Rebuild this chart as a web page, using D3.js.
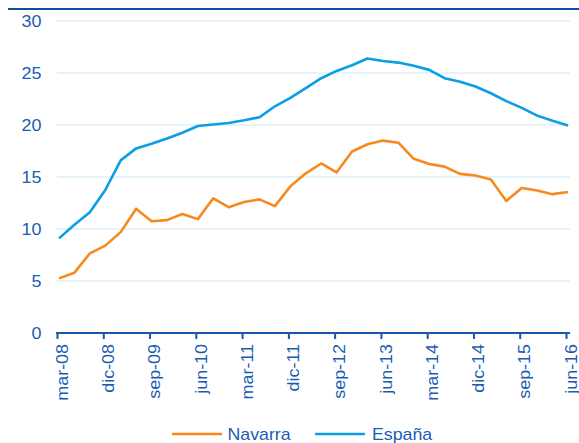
<!DOCTYPE html>
<html>
<head>
<meta charset="utf-8">
<script src="https://cdn.jsdelivr.net/npm/d3@7"></script>
<style>
  html, body { margin: 0; padding: 0; background: #fff; }
  svg text { font-family: "Liberation Sans", Arial, sans-serif; }
</style>
</head>
<body>
<svg id="chart" width="579" height="443"></svg>
<script>
const quarters = [
  "mar-08","jun-08","sep-08","dic-08","mar-09","jun-09","sep-09","dic-09",
  "mar-10","jun-10","sep-10","dic-10","mar-11","jun-11","sep-11","dic-11",
  "mar-12","jun-12","sep-12","dic-12","mar-13","jun-13","sep-13","dic-13",
  "mar-14","jun-14","sep-14","dic-14","mar-15","jun-15","sep-15","dic-15",
  "mar-16","jun-16"
];
const tickLabels = ["mar-08","dic-08","sep-09","jun-10","mar-11","dic-11","sep-12","jun-13","mar-14","dic-14","sep-15","jun-16"];
const navarra = [
  5.25, 5.8, 7.65, 8.4, 9.7, 11.95, 10.75, 10.85, 11.45, 10.95, 12.95, 12.1,
  12.6, 12.85, 12.2, 14.1, 15.35, 16.3, 15.45, 17.45, 18.15, 18.5, 18.3, 16.75,
  16.25, 16.0, 15.3, 15.15, 14.75, 12.7, 13.95, 13.7, 13.35, 13.55
];
const espana = [
  9.1, 10.4, 11.6, 13.75, 16.6, 17.75, 18.2, 18.7, 19.25, 19.9, 20.05, 20.2,
  20.45, 20.75, 21.8, 22.6, 23.55, 24.5, 25.2, 25.75, 26.4, 26.15, 26.0, 25.7,
  25.3, 24.5, 24.15, 23.7, 23.05, 22.3, 21.65, 20.9, 20.4, 19.95
];
const yTicks = [0, 5, 10, 15, 20, 25, 30];
const seriesNames = ["Navarra", "España"];

const textColor = "#1b5cb3";
const axisColor = "#1656ad";
const colors = { "Navarra": "#f7891f", "España": "#0a9fe2" };

const svg = d3.select("#chart");

const x = d3.scalePoint().domain(quarters).range([59, 568]);
const y = d3.scaleLinear().domain([0, 30]).range([333, 21]);

// top rule
svg.append("line")
  .attr("x1", 8).attr("x2", 579).attr("y1", 9).attr("y2", 9)
  .attr("stroke", "#0b4ea3").attr("stroke-width", 2.2);

// gridlines
svg.append("g").selectAll("line")
  .data(yTicks.filter(d => d > 0))
  .join("line")
  .attr("x1", 57).attr("x2", 570)
  .attr("y1", d => y(d)).attr("y2", d => y(d))
  .attr("stroke", "#cbe7f6").attr("stroke-width", 1.2);

// y labels
svg.append("g").selectAll("text")
  .data(yTicks)
  .join("text")
  .attr("transform", d => `translate(41.5,${y(d)}) scale(1.12,1)`)
  .attr("dy", "0.36em")
  .attr("text-anchor", "end")
  .attr("font-size", 16)
  .attr("fill", textColor)
  .text(d => d);

// x axis
const xAxis = d3.axisBottom(x)
  .tickValues(tickLabels)
  .tickSize(6)
  .tickSizeOuter(0);

const gx = svg.append("g")
  .attr("transform", "translate(-2,333)")
  .call(xAxis);
gx.select(".domain").remove();
gx.selectAll(".tick line").attr("stroke", axisColor).attr("stroke-width", 2);
gx.selectAll(".tick text")
  .attr("fill", textColor)
  .attr("font-size", 16)
  .attr("text-anchor", "end")
  .attr("x", 0).attr("y", 0)
  .attr("dy", "0.36em")
  .attr("transform", "translate(4.5,11) rotate(-90) scale(1.12,1)");

svg.append("line")
  .attr("x1", 56).attr("x2", 570).attr("y1", 333).attr("y2", 333)
  .attr("stroke", axisColor).attr("stroke-width", 2.2);

// lines
const line = d3.line()
  .x((d, i) => x(quarters[i]))
  .y(d => y(d));

svg.append("path")
  .datum(espana)
  .attr("fill", "none")
  .attr("stroke", colors["España"])
  .attr("stroke-width", 2.6)
  .attr("stroke-linejoin", "round")
  .attr("d", line);

svg.append("path")
  .datum(navarra)
  .attr("fill", "none")
  .attr("stroke", colors["Navarra"])
  .attr("stroke-width", 2.6)
  .attr("stroke-linejoin", "round")
  .attr("d", line);

// legend
const legendPos = [{ lx: 172, tx: 227.5 }, { lx: 315, tx: 372 }];
const lg = svg.append("g").selectAll("g")
  .data(seriesNames)
  .join("g");
lg.append("line")
  .attr("x1", (d, i) => legendPos[i].lx)
  .attr("x2", (d, i) => legendPos[i].lx + 50)
  .attr("y1", 434).attr("y2", 434)
  .attr("stroke", d => colors[d])
  .attr("stroke-width", 2.6);
lg.append("text")
  .attr("transform", (d, i) => `translate(${legendPos[i].tx},440) scale(1.11,1)`)
  .attr("font-size", 16)
  .attr("fill", textColor)
  .text(d => d);
</script>
</body>
</html>
